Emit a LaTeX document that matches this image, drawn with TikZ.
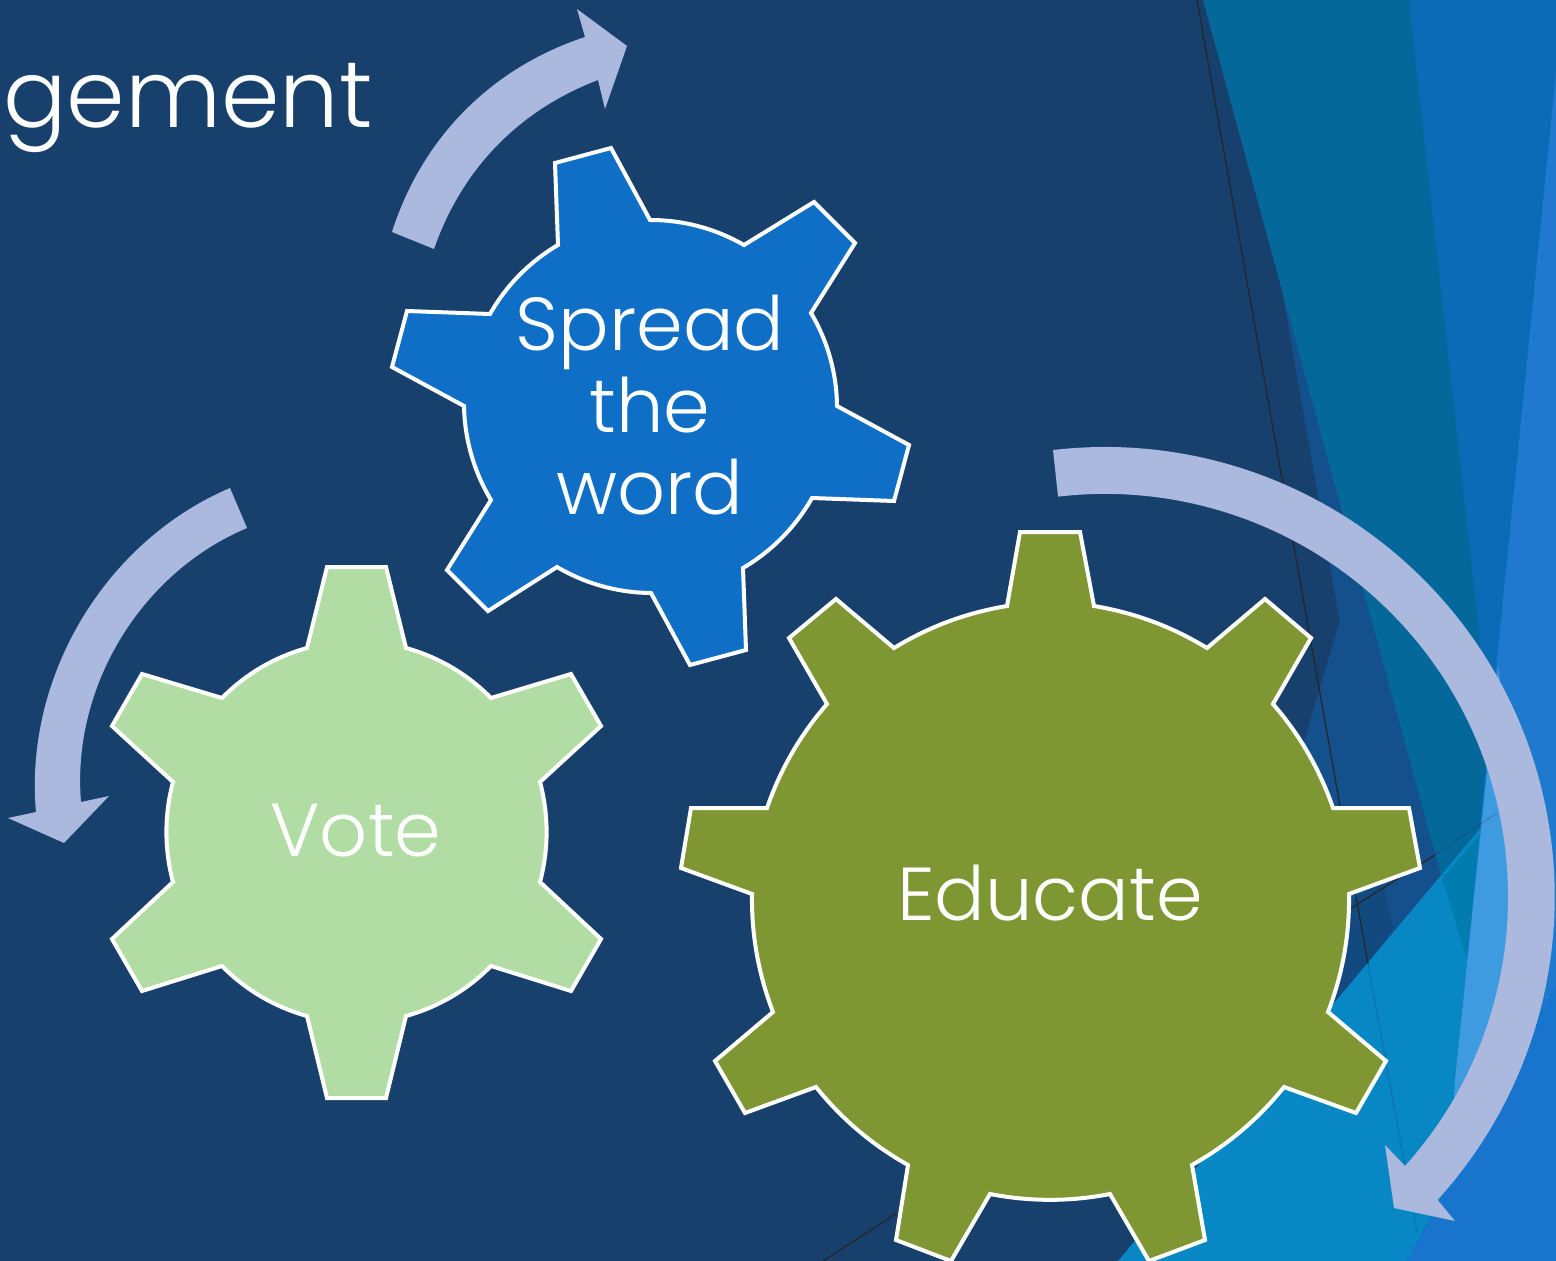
\documentclass[tikz,border=0pt]{standalone}
\usepackage{fontspec}
\setmainfont{Poppins}[UprightFont=* Light]
\definecolor{navybg}{HTML}{18406D}
\definecolor{midband}{HTML}{14508B}
\definecolor{darkband}{HTML}{124A80}
\definecolor{tealband}{HTML}{05689B}
\definecolor{tealtip}{HTML}{017CAF}
\definecolor{blueband}{HTML}{0B6BB7}
\definecolor{brightband}{HTML}{0788C5}
\definecolor{lightband}{HTML}{1E79CF}
\definecolor{paleband}{HTML}{3F9BE0}
\definecolor{deepband}{HTML}{1874CC}
\definecolor{spreadblue}{HTML}{0F6FC6}
\definecolor{votegreen}{HTML}{B1DDA4}
\definecolor{educateolive}{HTML}{7F9732}
\definecolor{arrowblue}{HTML}{AAB9DD}
\tikzset{
  gear/.style={draw=white,line width=2pt,line join=miter,looseness=0.87},
  cyclearrow/.style={fill=arrowblue,looseness=0.92},
  gearlabel/.style={text=white,font=\fontsize{37.5}{41}\selectfont,align=center,inner sep=0pt},
  hairline/.style={draw=black!85,line width=0.6pt}
}
\begin{document}
\begin{tikzpicture}[x=0.5pt,y=-0.5pt]
    \clip (0,0) rectangle (1556,1261);
    \fill[navybg] (0,0) rectangle (1556,1261);

    \fill[midband] (1523,0) -- (1278,830) -- (1330,1012) -- (1556,1012) -- (1556,0) -- cycle;
    \fill[midband] (1277,261) -- (1393,928) -- (1500,800) -- (1400,300) -- cycle;
    \fill[darkband] (1345,905) -- (1382,880) -- (1393,928) -- (1368,964) -- (1330,1010) -- cycle;
    \fill[tealband] (1203,0) -- (1409,0) -- (1500,660) -- (1500,811) -- (1442,879) -- cycle;
    \fill[blueband] (1409,0) -- (1556,0) -- (1556,820) -- (1500,820) -- cycle;
    \fill[brightband] (1118,1261) -- (1500,805) -- (1556,740) -- (1556,985) -- (1407,1261) -- cycle;
    \fill[tealtip] (1442,879) -- (1500,811) -- (1490,1032) -- cycle;
    \fill[lightband] (1556,72) -- (1500,630) -- (1455,1080) -- (1547,1006) -- (1556,1000) -- cycle;
    \fill[paleband] (1498,666) -- (1543,990) -- (1450,1172) -- (1455,1080) -- cycle;
    \fill[deepband] (1407,1261) -- (1556,985) -- (1556,1261) -- cycle;

    \coordinate (hairtop) at (1197,0);
    \coordinate (hairend) at (1368,964);
    \coordinate (hairlow) at (1417,1233);
    \coordinate (crossa) at (1350,909);
    \coordinate (crossb) at (1435,855);
    \coordinate (crossc) at (1497,813);
    \coordinate (stuba) at (823,1261);
    \coordinate (stubb) at (897,1213);
    \draw[hairline] (hairtop) -- (hairend);
    \draw[hairline,draw opacity=.2] (hairend) -- (hairlow);
    \draw[hairline] (crossa) -- (crossb);
    \draw[hairline,draw opacity=.2] (crossb) -- (crossc);
    \draw[hairline] (stuba) -- (stubb);

    \node[text=white,font=\fontsize{47}{47}\selectfont,inner sep=0pt,anchor=base west] (title) at (3,128) {gement};

    \draw[gear,fill=spreadblue] (555,163) -- (611,148) -- (650,220) to[bend left=15] (744,245)
        -- (814,202) -- (855,243) -- (811,313) to[bend left=15] (837,406)
        -- (909,445) -- (894,501) -- (812,498) to[bend left=15] (743,568)
        -- (746,650) -- (690,665) -- (651,593) to[bend left=15] (557,567)
        -- (488,611) -- (447,570) -- (491,500) to[bend left=15] (464,406)
        -- (392,367) -- (407,311) -- (490,314) to[bend left=15] (558,245) -- cycle;
    \draw[gear,fill=votegreen] (327,567) -- (386,567) -- (406,648) to[bend left=15] (491,698)
        -- (571,674) -- (601,726) -- (540,782) to[bend left=15] (540,882)
        -- (601,939) -- (571,991) -- (491,966) to[bend left=15] (406,1016)
        -- (386,1098) -- (327,1098) -- (307,1016) to[bend left=15] (222,966)
        -- (142,991) -- (112,939) -- (173,882) to[bend left=15] (173,782)
        -- (112,726) -- (142,674) -- (222,698) to[bend left=15] (307,648) -- cycle;
    \draw[gear,fill=educateolive] (1020,532) -- (1080,532) -- (1094,606) to[bend left=11] (1207,648)
        -- (1265,599) -- (1311,638) -- (1273,704) to[bend left=11] (1333,808)
        -- (1409,808) -- (1420,868) -- (1349,894) to[bend left=11] (1328,1012)
        -- (1386,1061) -- (1356,1113) -- (1284,1087) to[bend left=11] (1192,1165)
        -- (1205,1240) -- (1149,1261) -- (1110,1194) to[bend left=11] (990,1194)
        -- (951,1261) -- (896,1240) -- (908,1165) to[bend left=11] (816,1087)
        -- (745,1113) -- (715,1061) -- (773,1012) to[bend left=11] (752,894)
        -- (681,868) -- (691,808) -- (767,808) to[bend left=11] (827,704)
        -- (789,638) -- (836,599) -- (894,648) to[bend left=11] (1007,606) -- cycle;

    \node[gearlabel] (spread) at (650,405) {Spread\\the\\word};
    \node[gearlabel] (vote) at (356,831) {Vote};
    \node[gearlabel] (educate) at (1050,893) {Educate};

    \fill[cyclearrow] (392,232) to[bend left=27] (585,37) -- (577,9) -- (627,46) -- (605,109)
        -- (598,80) to[bend right=25] (434,249) -- cycle;
    \fill[cyclearrow] (230,488) to[bend right=36] (36,812) -- (8,818) -- (64,843) -- (109,796)
        -- (81,802) to[bend left=36] (247,528) -- cycle;
    \fill[cyclearrow] (1053,450) arc[start angle=-96.6,end angle=42.3,radius=450] -- (1455,1221)
        -- (1394,1208) -- (1385,1145) -- (1405,1166)
        arc[start angle=41.9,end angle=-96.7,radius=403] -- cycle;
\end{tikzpicture}
\end{document}
